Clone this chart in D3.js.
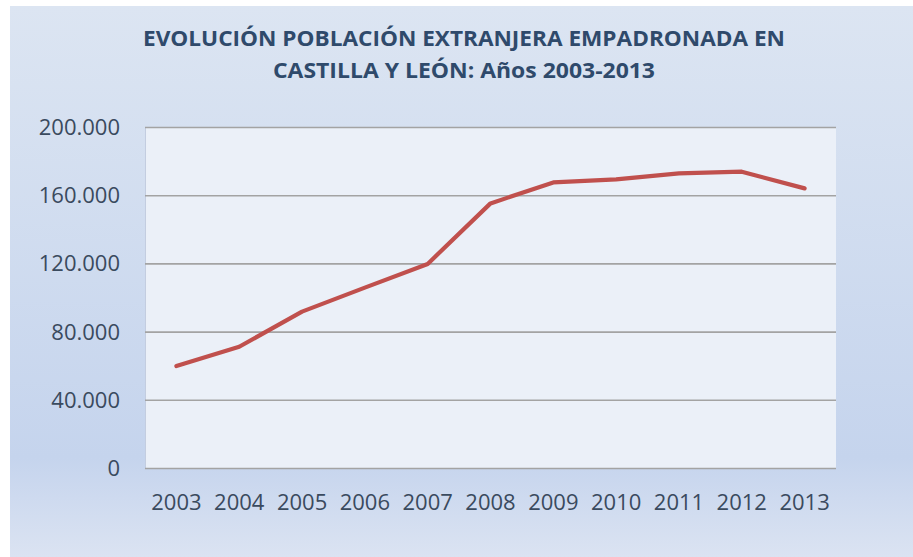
<!DOCTYPE html>
<html><head><meta charset="utf-8">
<script src="https://cdn.jsdelivr.net/npm/d3@7"></script>
<style>html,body{margin:0;padding:0;background:#fff;}svg{display:block;}</style>
</head><body>
<script>
const years = ["2003","2004","2005","2006","2007","2008","2009","2010","2011","2012","2013"];
const population = [59800, 71100, 91700, 105800, 119700, 155200, 167500, 169300, 172800, 173800, 164000];
const yTicks = [0, 40000, 80000, 120000, 160000, 200000];
const titleLines = ["EVOLUCIÓN POBLACIÓN EXTRANJERA EMPADRONADA EN", "CASTILLA Y LEÓN: Años 2003-2013"];

const W = 913, H = 557;
const svg = d3.select("body").append("svg").attr("width", W).attr("height", H);
const defs = svg.append("defs");
const g1 = defs.append("linearGradient").attr("id","bg").attr("x1",0).attr("y1",0).attr("x2",0).attr("y2",1);
g1.append("stop").attr("offset","0%").attr("stop-color","#dce5f2");
g1.append("stop").attr("offset","82%").attr("stop-color","#c5d4ed");
g1.append("stop").attr("offset","100%").attr("stop-color","#dbe3f2");

svg.append("rect").attr("x",10).attr("y",6).attr("width",W-10).attr("height",H-6).attr("fill","url(#bg)");

const m = {left:145, right:836, top:127, bottom:468};
const x = d3.scaleBand().domain(years).range([m.left, m.right]);
const y = d3.scaleLinear().domain([0, 200000]).range([m.bottom, m.top]);

svg.append("rect").attr("x",m.left).attr("y",m.top).attr("width",m.right-m.left).attr("height",m.bottom-m.top).attr("fill","#ebf0f8");
svg.append("line").attr("x1",m.left+0.5).attr("x2",m.left+0.5).attr("y1",m.top).attr("y2",m.bottom).attr("stroke","#c3cde0").attr("stroke-width",1);

const yAxis = d3.axisLeft(y).tickValues(yTicks).tickSize(-(m.right-m.left)).tickPadding(25)
  .tickFormat(d => d === 0 ? "0" : d3.format(",")(d).replace(/,/g, "."));
const ya = svg.append("g").attr("transform",`translate(${m.left},0)`).call(yAxis);
ya.select(".domain").remove();
ya.selectAll(".tick line").attr("stroke","#a3a3a3").attr("stroke-width",1.6);
ya.selectAll(".tick text").attr("font-family","'Open Sans'").attr("font-size",22).attr("fill","#3a4a5e").attr("dy","0.34em");

const xAxis = d3.axisBottom(x).tickSize(0).tickPadding(26);
const xa = svg.append("g").attr("transform",`translate(0,${m.bottom})`).call(xAxis);
xa.select(".domain").remove();
xa.selectAll(".tick text").attr("font-family","'Open Sans'").attr("font-size",22).attr("fill","#3a4a5e");

const line = d3.line().x((d,i) => x(years[i]) + x.bandwidth()/2).y(d => y(d));
svg.append("path").datum(population).attr("d", line).attr("fill","none")
  .attr("stroke","#c0504d").attr("stroke-width",4.2).attr("stroke-linecap","round").attr("stroke-linejoin","round");

const t = svg.append("g").attr("font-family","'Open Sans'").attr("font-weight","bold").attr("fill","#2f4a6b").attr("text-anchor","middle");
const titleWidths = [642, 382];
titleLines.forEach((s,i) => {
  t.append("text").attr("x",464).attr("y",46 + i*32).attr("font-size",22)
    .attr("textLength", titleWidths[i]).attr("lengthAdjust","spacingAndGlyphs").text(s);
});
</script>
</body></html>
